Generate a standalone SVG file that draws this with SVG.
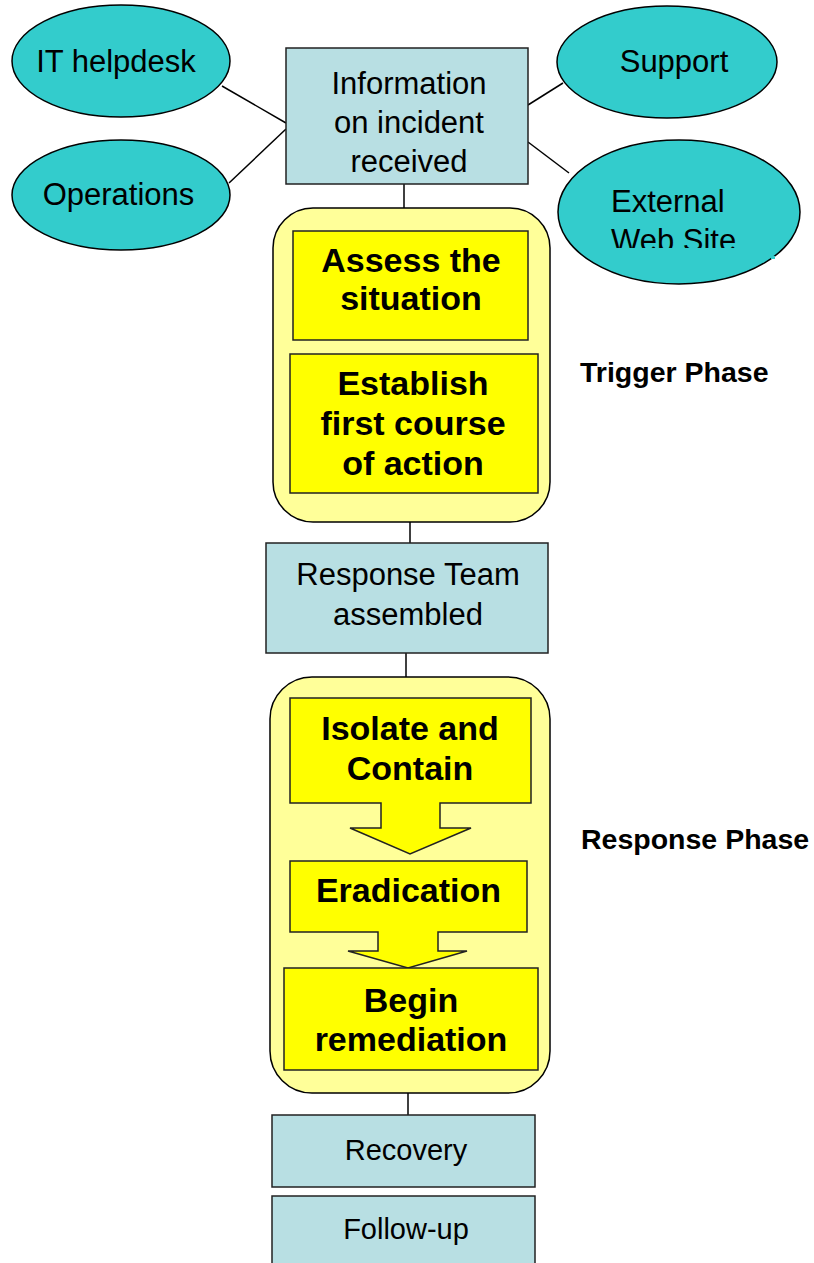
<svg xmlns="http://www.w3.org/2000/svg" width="814" height="1263" viewBox="0 0 814 1263">
<defs>
<style>
.ell{fill:#33CCCC;stroke:#000;stroke-width:1.5}
.box{fill:#B8DFE3;stroke:#222;stroke-width:1.5}
.cont{fill:#FFFF99;stroke:#000;stroke-width:1.5}
.yel{fill:#FFFF00;stroke:#222;stroke-width:1.5}
.con{stroke:#000;stroke-width:1.5;fill:none}
.t{font-family:"Liberation Sans",Arial,sans-serif;font-size:31px;fill:#000;text-anchor:middle}
.ts{font-family:"Liberation Sans",Arial,sans-serif;font-size:29px;fill:#000;text-anchor:middle}
.b{font-family:"Liberation Sans",Arial,sans-serif;font-size:34px;font-weight:bold;fill:#000;text-anchor:middle}
.ph{font-family:"Liberation Sans",Arial,sans-serif;font-size:28.5px;font-weight:bold;fill:#000}
</style>
<clipPath id="webclip"><rect x="560" y="140" width="240" height="108"/></clipPath>
</defs>
<rect width="814" height="1263" fill="#fff"/>

<g id="connectors">
<line class="con" x1="222" y1="86" x2="286" y2="123"/>
<line class="con" x1="229" y1="183" x2="286" y2="129"/>
<line class="con" x1="528" y1="105" x2="563" y2="83"/>
<line class="con" x1="528" y1="142" x2="569" y2="173"/>
<line class="con" x1="404" y1="184" x2="404" y2="231"/>
<line class="con" x1="410" y1="493" x2="410" y2="543"/>
<line class="con" x1="406" y1="653" x2="406" y2="698"/>
<line class="con" x1="408" y1="1070" x2="408" y2="1115"/>
</g>

<g id="it-helpdesk">
<ellipse class="ell" cx="121" cy="61" rx="109" ry="56"/>
<text class="t" x="116" y="72">IT helpdesk</text>
</g>
<g id="operations">
<ellipse class="ell" cx="121" cy="195" rx="109" ry="55"/>
<text class="t" x="118.5" y="205">Operations</text>
</g>
<g id="support">
<ellipse class="ell" cx="667" cy="62" rx="110" ry="56"/>
<text class="t" x="674" y="72">Support</text>
</g>
<g id="external-web-site">
<ellipse class="ell" cx="679" cy="212" rx="121" ry="72"/>
<g clip-path="url(#webclip)">
<text class="t" x="611" y="212" style="text-anchor:start">External</text>
<text class="t" x="611" y="251" style="text-anchor:start">Web Site</text>
</g>
<rect x="771" y="256" width="4" height="3" fill="#33CCCC"/>
</g>

<g id="info-received">
<rect class="box" x="286" y="48" width="242" height="136"/>
<text class="t" x="409" y="94">Information</text>
<text class="t" x="409" y="133">on incident</text>
<text class="t" x="409" y="172">received</text>
</g>

<g id="trigger-phase">
<rect class="cont" x="273" y="208" width="277" height="314" rx="40" ry="40"/>
<text class="ph" x="580" y="382">Trigger Phase</text>
</g>
<g id="assess">
<rect class="yel" x="293" y="231" width="235" height="109"/>
<text class="b" x="411" y="272">Assess the</text>
<text class="b" x="411" y="310">situation</text>
</g>
<g id="establish">
<rect class="yel" x="290" y="354" width="248" height="139"/>
<text class="b" x="413" y="395">Establish</text>
<text class="b" x="413" y="435">first course</text>
<text class="b" x="413" y="475">of action</text>
</g>

<g id="response-team">
<rect class="box" x="266" y="543" width="282" height="110"/>
<text class="t" x="408" y="585">Response Team</text>
<text class="t" x="408" y="625">assembled</text>
</g>

<g id="response-phase">
<rect class="cont" x="270" y="677" width="280" height="416" rx="42" ry="42"/>
<text class="ph" x="581" y="849">Response Phase</text>
</g>
<g id="isolate">
<polygon class="yel" points="290,698 531,698 531,803 440,803 440,828 471,828 410,854 350,828 381,828 381,803 290,803"/>
<text class="b" x="410" y="740">Isolate and</text>
<text class="b" x="410" y="780">Contain</text>
</g>
<g id="eradication">
<polygon class="yel" points="290,861 527,861 527,932 438,932 438,951 467,951 408,968 348,951 378,951 378,932 290,932"/>
<text class="b" x="408.5" y="902">Eradication</text>
</g>
<g id="remediation">
<rect class="yel" x="284" y="968" width="254" height="102"/>
<text class="b" x="411" y="1012">Begin</text>
<text class="b" x="411" y="1051">remediation</text>
</g>

<g id="recovery">
<rect class="box" x="272" y="1115" width="263" height="72"/>
<text class="ts" x="406" y="1160">Recovery</text>
</g>
<g id="follow-up">
<rect class="box" x="272" y="1196" width="263" height="80"/>
<text class="ts" x="406" y="1239">Follow-up</text>
</g>
</svg>
